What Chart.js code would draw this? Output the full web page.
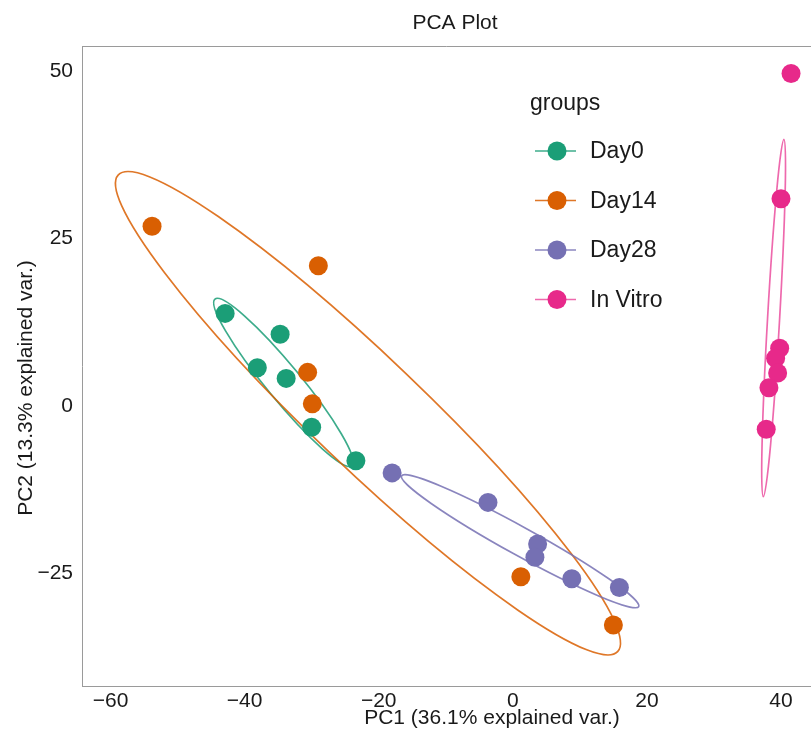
<!DOCTYPE html>
<html>
<head>
<meta charset="utf-8">
<script src="https://cdn.jsdelivr.net/npm/chart.js@4.4.1/dist/chart.umd.min.js"></script>
<style>
html, body { margin: 0; padding: 0; background: #fff; overflow: hidden; }
/* a little wider than the window: the panel's right edge is cut off, as in the source */
#wrap { width: 821px; height: 743px; position: relative; }
</style>
</head>
<body>
<div id="wrap"><canvas id="pca"></canvas></div>
<script>
// groups and colours (Dark2)
const groupNames = ['Day0', 'Day14', 'Day28', 'In Vitro'];
const groupColors = ['#1B9E77', '#D95F02', '#7570B3', '#E7298A'];
const lineColors = ['rgba(27,158,119,0.85)', 'rgba(217,95,2,0.85)', 'rgba(117,112,179,0.85)', 'rgba(231,41,138,0.7)'];

// sample scores
const day0PC1 = [-42.9, -34.7, -38.1, -33.8, -30.0, -23.4];
const day0PC2 = [13.8, 10.7, 5.7, 4.1, -3.2, -8.2];
const day14PC1 = [-53.8, -29.0, -30.6, -29.9, 1.2, 15.0];
const day14PC2 = [26.8, 20.9, 5.0, 0.3, -25.5, -32.7];
const day28PC1 = [-18.0, -3.7, 3.7, 3.3, 8.8, 15.9];
const day28PC2 = [-10.0, -14.4, -20.6, -22.6, -25.8, -27.1];
const vitroPC1 = [41.5, 40.0, 39.8, 39.2, 39.5, 38.2, 37.8];
const vitroPC2 = [49.6, 30.9, 8.6, 7.1, 4.9, 2.7, -3.5];

// confidence ellipses: centre, semi axes (data units), rotation (deg)
const ellipseCenterPC1 = [-34.2, -21.6, 1.1, 38.9];
const ellipseCenterPC2 = [3.5, -1.1, -20.2, 13.1];
const ellipseSemiMajor = [16.1, 51.5, 20.2, 26.7];
const ellipseSemiMinor = [2.55, 8.2, 2.1, 0.9];
const ellipseAngle = [-50.6, -43.7, -28.9, 86.7];

// axes
const xTicks = [-60, -40, -20, 0, 20, 40];
const yTicks = [-25, 0, 25, 50];
const xRange = [-64.25, 44.55];
const yRange = [-41.8, 53.7];

const FONT = '"Liberation Sans", Arial, sans-serif';
const TEXT = '#1a1a1a';

const groupX = [day0PC1, day14PC1, day28PC1, vitroPC1];
const groupY = [day0PC2, day14PC2, day28PC2, vitroPC2];

const datasets = groupNames.map((name, i) => ({
    label: name,
    data: groupX[i].map((v, k) => ({ x: v, y: groupY[i][k] })),
    backgroundColor: groupColors[i],
    borderWidth: 0,
    pointRadius: 9.5,
    pointHoverRadius: 9.5
}));

// ellipses drawn through the scales
const ellipsePlugin = {
    id: 'ellipses',
    beforeDatasetsDraw(chart) {
        const { ctx, chartArea, scales: { x, y } } = chart;
        const sx = x.getPixelForValue(1) - x.getPixelForValue(0);
        const sy = y.getPixelForValue(0) - y.getPixelForValue(1);
        ctx.save();
        ctx.beginPath();
        ctx.rect(chartArea.left, chartArea.top, chartArea.right - chartArea.left, chartArea.bottom - chartArea.top);
        ctx.clip();
        groupNames.forEach((g, i) => {
            ctx.save();
            ctx.translate(x.getPixelForValue(ellipseCenterPC1[i]), y.getPixelForValue(ellipseCenterPC2[i]));
            ctx.scale(sx, -sy);
            ctx.rotate(ellipseAngle[i] * Math.PI / 180);
            ctx.beginPath();
            ctx.ellipse(0, 0, ellipseSemiMajor[i], ellipseSemiMinor[i], 0, 0, Math.PI * 2);
            ctx.restore();
            ctx.strokeStyle = lineColors[i];
            ctx.lineWidth = 1.7;
            ctx.stroke();
        });
        ctx.restore();
    }
};

// panel top edge, titles and the legend
const decorPlugin = {
    id: 'decor',
    afterDraw(chart) {
        const { ctx, chartArea } = chart;
        ctx.save();
        ctx.strokeStyle = '#9a9a9a';
        ctx.lineWidth = 1;
        ctx.beginPath();
        ctx.moveTo(chartArea.left, chartArea.top + 0.5);
        ctx.lineTo(chartArea.right, chartArea.top + 0.5);
        ctx.stroke();

        ctx.fillStyle = TEXT;
        ctx.textAlign = 'center';
        ctx.textBaseline = 'middle';
        ctx.font = '21px ' + FONT;
        ctx.fillText('PCA Plot', 455, 23);
        ctx.fillText('PC1 (36.1% explained var.)', 492, 718);

        ctx.save();
        ctx.translate(26, 388);
        ctx.rotate(-Math.PI / 2);
        ctx.fillText('PC2 (13.3% explained var.)', 0, 0);
        ctx.restore();

        // legend
        ctx.textAlign = 'left';
        ctx.font = '23px ' + FONT;
        ctx.fillText('groups', 530, 104);
        groupNames.forEach((name, i) => {
            const cy = 151 + i * 49.5;
            ctx.strokeStyle = lineColors[i];
            ctx.lineWidth = 1.7;
            ctx.beginPath();
            ctx.moveTo(535, cy);
            ctx.lineTo(576, cy);
            ctx.stroke();
            ctx.fillStyle = groupColors[i];
            ctx.beginPath();
            ctx.arc(557, cy, 9.5, 0, Math.PI * 2);
            ctx.fill();
            ctx.fillStyle = TEXT;
            ctx.fillText(name, 590, cy + 1);
        });
        ctx.restore();
    }
};

new Chart(document.getElementById('pca'), {
    type: 'scatter',
    data: { datasets },
    plugins: [ellipsePlugin, decorPlugin],
    options: {
        responsive: true,
        maintainAspectRatio: false,
        animation: false,
        layout: { padding: { top: 46, left: 0, right: 0, bottom: 0 } },
        plugins: {
            legend: { display: false },
            title: { display: false },
            tooltip: { enabled: false }
        },
        scales: {
            x: {
                type: 'linear',
                min: xRange[0],
                max: xRange[1],
                afterBuildTicks: s => { s.ticks = xTicks.map(v => ({ value: v })); },
                afterFit: s => { s.height = 57; },
                grid: { display: false, drawTicks: false },
                border: { display: true, color: '#9a9a9a', width: 1 },
                ticks: { color: TEXT, font: { size: 21, family: FONT }, padding: 3, maxRotation: 0,
                    callback: v => (v < 0 ? '\u2212' + Math.abs(v) : String(v)) }
            },
            y: {
                type: 'linear',
                min: yRange[0],
                max: yRange[1],
                afterBuildTicks: s => { s.ticks = yTicks.map(v => ({ value: v })); },
                afterFit: s => { s.width = 82; },
                grid: { display: false, drawTicks: false },
                border: { display: true, color: '#9a9a9a', width: 1 },
                ticks: { color: TEXT, font: { size: 21, family: FONT }, padding: 9,
                    callback: v => (v < 0 ? '\u2212' + Math.abs(v) : String(v)) }
            }
        }
    }
});
</script>
</body>
</html>
